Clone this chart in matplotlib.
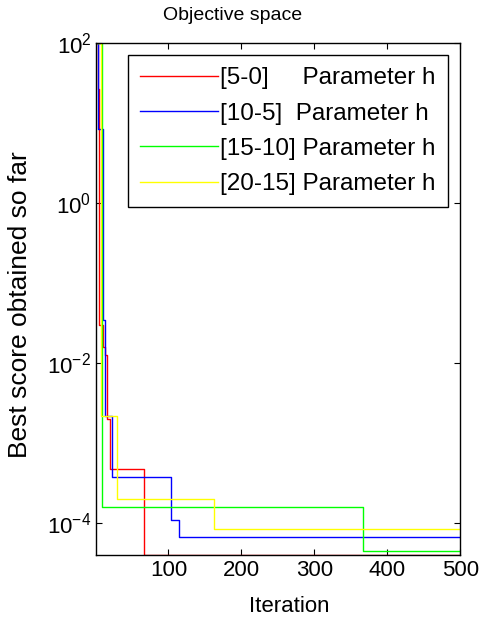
import matplotlib
matplotlib.use("Agg")
import matplotlib.pyplot as plt

plt.rcParams['font.family'] = ['Liberation Sans', 'DejaVu Sans']
plt.rcParams['mathtext.fontset'] = 'custom'
plt.rcParams['mathtext.rm'] = 'Liberation Sans'
plt.rcParams['mathtext.default'] = 'regular'

# iterations where the best score changes, and the score from there on
red_it = [1, 3, 5, 11, 13, 16, 20, 67, 500]
red_val = [100, 27, 0.03, 0.016, 0.0126, 2.0e-3, 4.7e-4, 4.0e-5, 4.0e-5]

blue_it = [1, 3, 10, 13, 23, 104, 114, 500]
blue_val = [100, 8.4, 0.035, 2.2e-3, 3.8e-4, 1.1e-4, 6.7e-5, 6.7e-5]

green_it = [1, 9, 367, 500]
green_val = [100, 1.58e-4, 4.5e-5, 4.5e-5]

yellow_it = [1, 8, 30, 163, 500]
yellow_val = [100, 2.2e-3, 2.0e-4, 8.4e-5, 8.4e-5]

labels = ['[5-0]     Parameter h', '[10-5]  Parameter h',
          '[15-10] Parameter h', '[20-15] Parameter h']
xticks = [100, 200, 300, 400, 500]
yticks = [1e-4, 1e-2, 1e0, 1e2]

fig = plt.figure(figsize=(4.81, 6.27), dpi=100)
ax = fig.add_axes([0.2, 0.115, 0.757, 0.816])

series = [(red_it, red_val, '#ff0000'), (blue_it, blue_val, '#0000ff'),
          (green_it, green_val, '#00ff00'), (yellow_it, yellow_val, '#ffff00')]
for (it, val, c), lab in zip(series, labels):
    ax.semilogy(it, val, color=c, lw=1.0, drawstyle='steps-post', label=lab)

ax.set_xlim(1, 500)
ax.set_ylim(min(red_val + blue_val + green_val + yellow_val), 100)
ax.set_xticks(xticks)
ax.set_yticks(yticks)
ax.minorticks_off()
ax.tick_params(direction='in', top=True, right=True, length=4, labelsize=16)
for s in ax.spines.values():
    s.set_linewidth(1.0)

fig.text(233 / 481, 1 - 15 / 627, 'Objective space', fontsize=14,
         ha='center', va='center')
ax.set_xlabel('Iteration', fontsize=16)
ax.xaxis.set_label_coords(0.53, -0.08)
ax.set_ylabel('Best score obtained so far', fontsize=19)
ax.yaxis.set_label_coords(-0.176, 0.49)

leg = ax.legend(loc='upper right', bbox_to_anchor=(448 / 481, 1 - 55 / 627),
                bbox_transform=fig.transFigure, borderaxespad=0, fontsize=17.5,
                handlelength=3.2, handletextpad=0.1, labelspacing=0.55,
                borderpad=0.5, fancybox=False, framealpha=1)
leg.get_frame().set_edgecolor('black')
leg.get_frame().set_linewidth(1.0)

fig.savefig('out.png', dpi=100)
